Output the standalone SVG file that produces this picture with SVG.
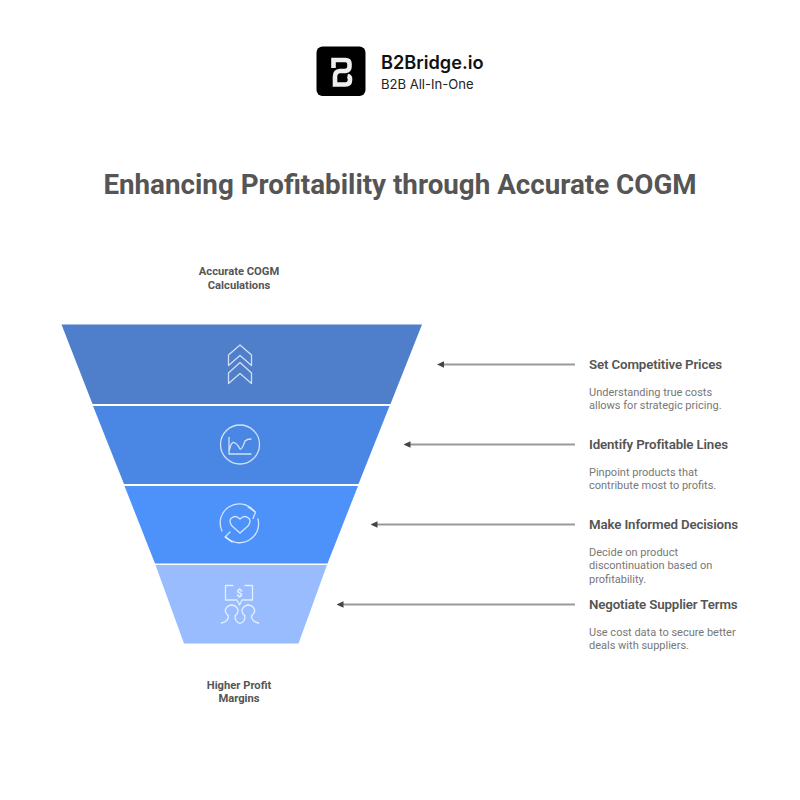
<svg xmlns="http://www.w3.org/2000/svg" width="800" height="800" viewBox="0 0 800 800">
<style>
text{font-family:Roboto,"Liberation Sans",sans-serif}
.h{font-size:13.300px;font-weight:600;fill:#555;letter-spacing:-.14px}
.d{font-size:11px;fill:#777}
.c{font-size:11.200px;font-weight:700;fill:#555;text-anchor:middle}
.i{fill:none;stroke:#fff;stroke-opacity:.75;stroke-width:1.300;stroke-linejoin:round;stroke-linecap:round}
.con{stroke:#999;stroke-width:2;fill:none;marker-end:url(#a)}
</style>
<defs><marker id="a" markerUnits="userSpaceOnUse" markerWidth="7" markerHeight="8" refX="1" refY="4" orient="auto"><path d="M0 0.800L7 4L0 7.200Z" fill="#444"/></marker></defs>
<rect width="800" height="800" fill="#fff"/>
<g id="logo">
<rect x="316.500" y="46.500" width="49" height="49.500" rx="6" fill="#000"/>
<path d="M333.500 68V60H345.500Q349.500 60 349.500 64V66.500Q349.500 70.500 345.500 71H340Q335 71.500 335 76.500V84.500H345.500Q350 84.500 350 80V78.500Q350 76.500 347.500 76" fill="none" stroke="#eee" stroke-width="4.600"/>
<text x="381" y="68.500" font-size="18.200" font-weight="600" fill="#111" style="font-family:Inter,sans-serif">B2Bridge.io</text>
<text x="381" y="89" font-size="13.050" fill="#222" style="font-family:Inter,sans-serif">B2B All-In-One</text>
</g>
<text id="title" x="400" y="194" text-anchor="middle" font-size="27.750" font-weight="700" fill="#555">Enhancing Profitability through Accurate COGM</text>
<text class="c" x="239" y="275">Accurate COGM</text>
<text class="c" x="239" y="288.500">Calculations</text>
<g id="tier1"><path d="M61.500 324.500H422L390.500 404H92.500Z" fill="#4f7ecb"/>
<path class="i" d="M240 345L251.500 355V365.500L240 355.500L228.500 365.500V355Z"/>
<path class="i" d="M240 362.500L251.500 373V383.500L240 373.500L228.500 383.500V373Z"/></g>
<g id="tier2"><path d="M93 406H389.500L358.500 484H124Z" fill="#4a86e4"/>
<circle class="i" cx="240" cy="444.500" r="19.500"/>
<path class="i" d="M229 437.500V454H251M229 451.500Q231 443 233 442.500Q236 442 240 449Q242 450 245 441Q247 439 251 439"/></g>
<g id="tier3"><path d="M124.500 486H358L327.500 563.500H155Z" fill="#4d92fb"/>
<path class="i" d="M222 531A19 19 0 0 1 254 511M258 519A19 19 0 0 1 226 537"/>
<path class="i" d="M248 507L255.500 512L253 518.500M230 532L225 537L232 542"/>
<path class="i" d="M240 533L232 526Q229 522 230.500 519Q235 514 240 519Q245 514 249.500 519Q251 522 248 526Z"/></g>
<g id="tier4"><path d="M155.500 565H327L298.500 643.500H184Z" fill="#98bcfe"/>
<path class="i" d="M233 585.500H225.500V600H237L239.500 605L242 600H252.500V585.500H245"/>
<text x="239.500" y="597" font-size="11" font-weight="700" fill="#fff" fill-opacity=".8" text-anchor="middle">$</text>
<path class="i" d="M221.500 623Q228.500 621.500 228.500 616Q224.500 612 225.500 609.500Q227.500 605 232 605Q236 605.500 238 609.500Q238.500 613 235 616Q235 622 240 623.500Q245 622 245 616Q241.500 613 242 609.500Q244 605.500 248 605Q252.500 605 254.500 609.500Q255.500 612 251.500 616Q251.500 621.500 258.500 623"/></g>
<text class="c" x="239" y="689">Higher Profit</text>
<text class="c" x="239" y="702">Margins</text>
<g id="connectors">
<path class="con" d="M575 364.500H443"/>
<path class="con" d="M575 444.500H409.500"/>
<path class="con" d="M575 524.500H376.500"/>
<path class="con" d="M575 604.500H342.500"/>
</g>
<g id="n1"><text class="h" x="589" y="368.500">Set Competitive Prices</text><text class="d" x="589" y="395.500">Understanding true costs</text><text class="d" x="589" y="409">allows for strategic pricing.</text></g>
<g id="n2"><text class="h" x="589" y="448.500">Identify Profitable Lines</text><text class="d" x="589" y="475.500">Pinpoint products that</text><text class="d" x="589" y="489">contribute most to profits.</text></g>
<g id="n3"><text class="h" x="589" y="528.500">Make Informed Decisions</text><text class="d" x="589" y="555.500">Decide on product</text><text class="d" x="589" y="569">discontinuation based on</text><text class="d" x="589" y="582.500">profitability.</text></g>
<g id="n4"><text class="h" x="589" y="608.500">Negotiate Supplier Terms</text><text class="d" x="589" y="635.500">Use cost data to secure better</text><text class="d" x="589" y="649">deals with suppliers.</text></g>
</svg>
